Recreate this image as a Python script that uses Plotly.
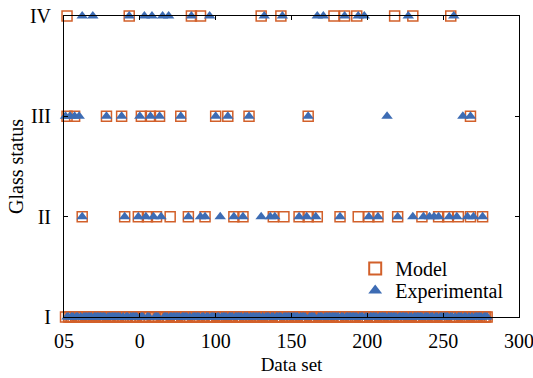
import plotly.graph_objects as go

# ---- data ----
n_sets = 279
model_IV = [2, 43, 84, 90, 130, 143, 178, 185, 193, 218, 230, 255]
exp_IV = [12, 19, 43, 53, 58, 65, 69, 84, 96, 132, 144, 167, 171, 185, 194, 198, 227, 257]
model_III = [2, 7, 28, 38, 51, 57, 63, 77, 100, 108, 122, 161, 268]
exp_III = [1, 4, 7, 10, 28, 38, 50, 57, 63, 77, 100, 108, 122, 161, 213, 263, 268]
model_II = [12, 40, 49, 55, 61, 70, 82, 93, 112, 118, 138, 145, 155, 161, 167, 182,
            194, 201, 207, 220, 236, 247, 253, 260, 268, 276]
exp_II = [12, 40, 49, 54, 59, 64, 82, 90, 93, 103, 112, 118, 130, 136, 139, 155, 160,
          166, 182, 201, 207, 220, 230, 237, 241, 244, 247, 254, 259, 266, 270, 276]

x_tickvals = [0, 50, 100, 150, 200, 250, 300]
x_ticktext = ["05", "0", "100", "150", "200", "250", "300"]
y_tickvals = [1, 2, 3, 4]
y_ticktext = ["I", "II", "III", "IV"]


def build(up_sets):
    taken = set()
    for s in up_sets.values():
        taken |= set(s)
    xs, ys = [], []
    for i in range(1, n_sets + 1):
        if i not in taken:
            xs.append(i); ys.append(1)
    for lvl, s in up_sets.items():
        xs += s; ys += [lvl] * len(s)
    return xs, ys


mx, my = build({2: model_II, 3: model_III, 4: model_IV})
ex, ey = build({2: exp_II, 3: exp_III, 4: exp_IV})

orange = "#D2602A"
blue = "#3D6CB4"

fig = go.Figure()
fig.add_trace(go.Scatter(x=mx, y=my, mode="markers", name="Model", cliponaxis=False,
                         legend="legend",
                         marker=dict(symbol="square-open", size=10, color=orange,
                                     line=dict(width=1.5, color=orange))))
fig.add_trace(go.Scatter(x=ex, y=ey, mode="markers", name="Experimental", cliponaxis=False,
                         legend="legend2",
                         marker=dict(symbol="triangle-up", size=10, color=blue)))

font = "Liberation Serif, Times New Roman, serif"
leg_common = dict(x=0.64, xanchor="left", yanchor="top", bgcolor="rgba(0,0,0,0)",
                  font=dict(size=20, family=font), itemsizing="constant")
fig.update_layout(
    width=533, height=378,
    margin=dict(l=64, r=14, t=16, b=61, autoexpand=False),
    paper_bgcolor="white", plot_bgcolor="white",
    font=dict(family=font, size=20, color="black"),
    showlegend=True,
    legend=dict(y=0.226, **leg_common),
    legend2=dict(y=0.153, **leg_common),
)
fig.update_xaxes(range=[0, 300], tickvals=x_tickvals, ticktext=x_ticktext,
                 showgrid=False, zeroline=False, showline=True, linecolor="black",
                 linewidth=1, mirror="ticks", ticks="inside", ticklen=4,
                 tickcolor="black", tickfont=dict(size=20, family=font),
                 ticklabelstandoff=6, ticklabeloverflow="allow", automargin=False,
                 title=dict(text="Data set", font=dict(size=19, family=font), standoff=6))
fig.update_yaxes(range=[1, 4], tickvals=y_tickvals, ticktext=y_ticktext,
                 showgrid=False, zeroline=False, showline=True, linecolor="black",
                 linewidth=1, mirror="ticks", ticks="inside", ticklen=4,
                 tickcolor="black", tickfont=dict(size=20, family=font),
                 ticklabelstandoff=8, ticklabeloverflow="allow", automargin=False,
                 title=dict(text="Glass status", font=dict(size=20, family=font), standoff=0))

fig.write_html("out.html")
